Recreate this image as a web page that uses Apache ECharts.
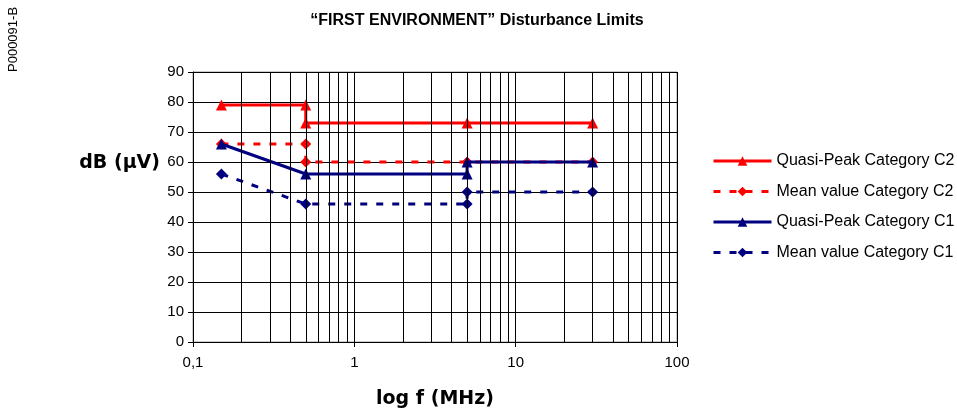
<!DOCTYPE html>
<html><head><meta charset="utf-8">
<script src="https://cdn.jsdelivr.net/npm/echarts@6/dist/echarts.min.js"></script>
<style>html,body{margin:0;padding:0;background:#fff}#c{width:957px;height:416px}</style>
</head><body><div id="c"></div>
<script>
const qpC2 = [[0.15,79],[0.5,79],[0.5,73],[5,73],[30,73]];
const meanC2 = [[0.15,66],[0.5,66],[0.5,60],[5,60],[30,60]];
const qpC1 = [[0.15,66],[0.5,56],[5,56],[5,60],[30,60]];
const meanC1 = [[0.15,56],[0.5,46],[5,46],[5,50],[30,50]];
const seriesNames = ['Quasi-Peak Category C2','Mean value Category C2','Quasi-Peak Category C1','Mean value Category C1'];
const xTickValues = [0.1,1,10,100];
const xTickLabels = ['0,1','1','10','100'];
const minorGridValues = [0.2,0.3,0.4,0.5,0.6,0.7,0.8,0.9,2,3,4,5,6,7,8,9,20,30,40,50,60,70,80,90];

const RED = '#ff0000', NAVY = '#000080';
const FONT = '"Liberation Sans", Arial, sans-serif';
const BFONT = '"DejaVu Sans", Verdana, sans-serif';
const chart = echarts.init(document.getElementById('c'));
function fmtX(v){
  for (let i=0;i<xTickValues.length;i++) if (Math.abs(v-xTickValues[i])<1e-9) return xTickLabels[i];
  return '';
}
chart.setOption({
  animation:false,
  backgroundColor:'#fff',
  textStyle:{fontFamily:FONT},
  title:{text:'\u201CFIRST ENVIRONMENT\u201D Disturbance Limits',left:472,top:8,textAlign:'center',
    textStyle:{fontSize:16,fontWeight:'bold',color:'#000',fontFamily:FONT}},
  graphic:[
    {type:'text',x:7,y:72,rotation:Math.PI/2,style:{text:'P000091-B',fontSize:13,fill:'#000',fontFamily:FONT,textVerticalAlign:'top'}},
    {type:'text',x:160,y:163,style:{text:'dB (\u00B5V)',fontSize:19,fontWeight:'bold',fill:'#000',fontFamily:BFONT,textAlign:'right',textVerticalAlign:'middle'}}
  ],
  grid:{left:193,right:280,top:72,bottom:74,outerBoundsMode:'none',containLabel:false,show:true,borderColor:'#999',borderWidth:1,backgroundColor:'#fff'},
  legend:{orient:'vertical',left:712,top:153,padding:0,itemGap:14.5,itemWidth:58,itemHeight:12,
    lineStyle:{width:3},
    data:seriesNames,textStyle:{fontSize:16,color:'#000',fontFamily:FONT}},
  xAxis:{type:'log',logBase:10,min:0.1,max:100,
    name:'log f (MHz)',nameLocation:'middle',nameGap:48,
    nameTextStyle:{fontSize:19,fontWeight:'bold',color:'#000',fontFamily:BFONT},
    axisLine:{lineStyle:{color:'#000'}},axisTick:{show:true,length:5,lineStyle:{color:'#000'}},
    axisLabel:{formatter:fmtX,fontSize:15,color:'#000',margin:13},
    splitLine:{show:true,lineStyle:{color:'#000',width:1}}},
  yAxis:{type:'value',min:0,max:90,interval:10,
    axisLine:{show:true,lineStyle:{color:'#000'}},axisTick:{show:true,length:5,lineStyle:{color:'#000'}},
    axisLabel:{fontSize:15,color:'#000',margin:9},
    splitLine:{show:true,lineStyle:{color:'#000',width:1}}},
  series:[
    {name:'grid',type:'line',data:[],silent:true,
      markLine:{silent:true,symbol:'none',label:{show:false},animation:false,
        lineStyle:{color:'#000',width:1,type:'solid'},
        data:minorGridValues.map(v=>({xAxis:v}))}},
    {name:seriesNames[0],type:'line',data:qpC2,symbol:'triangle',symbolSize:11,
      itemStyle:{color:RED},lineStyle:{color:RED,width:3},z:3},
    {name:seriesNames[1],type:'line',data:meanC2,symbol:'diamond',symbolSize:11,
      itemStyle:{color:RED},lineStyle:{color:RED,width:3,type:[7,9]},z:3},
    {name:seriesNames[2],type:'line',data:qpC1,symbol:'triangle',symbolSize:11,
      itemStyle:{color:NAVY},lineStyle:{color:NAVY,width:3},z:4},
    {name:seriesNames[3],type:'line',data:meanC1,symbol:'diamond',symbolSize:11,
      itemStyle:{color:NAVY},lineStyle:{color:NAVY,width:3,type:[7,9]},z:4}
  ]
});
</script></body></html>
